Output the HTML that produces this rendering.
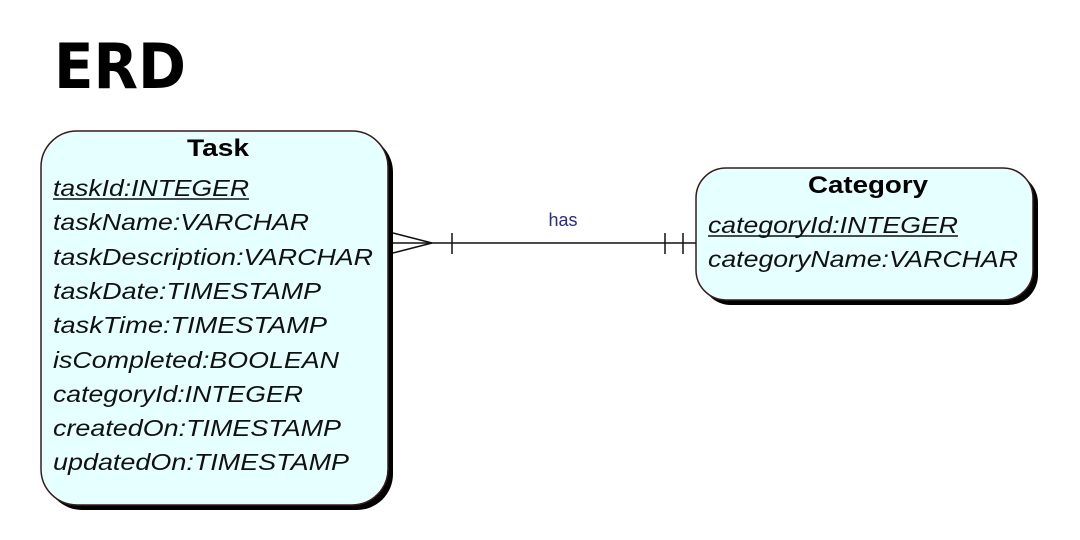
<!DOCTYPE html>
<html><head><meta charset="utf-8"><style>html,body{margin:0;padding:0;background:#fff;}svg{display:block}</style></head>
<body>
<svg width="1080" height="540" xmlns="http://www.w3.org/2000/svg" font-family="Liberation Sans, Arial, sans-serif">
<text x="54" y="88" font-family="DejaVu Sans, sans-serif" font-weight="bold" font-size="62" textLength="132" lengthAdjust="spacingAndGlyphs">ERD</text>
<!-- Task -->
<rect x="46" y="136" width="347" height="374" rx="36" fill="#000"/>
<rect x="41" y="131" width="347" height="374" rx="36" fill="#e6ffff" stroke="#3a1a1a" stroke-width="1.5"/>
<text x="187" y="156" font-weight="bold" font-size="24" textLength="62" lengthAdjust="spacingAndGlyphs">Task</text>
<g font-style="italic" font-size="23" fill="#111">
<text x="53" y="196" textLength="196" lengthAdjust="spacingAndGlyphs">taskId:INTEGER</text>
<line x1="53" y1="199" x2="249" y2="199" stroke="#111" stroke-width="1.5"/>
<text x="53" y="230" textLength="256" lengthAdjust="spacingAndGlyphs">taskName:VARCHAR</text>
<text x="53" y="265" textLength="320" lengthAdjust="spacingAndGlyphs">taskDescription:VARCHAR</text>
<text x="53" y="299" textLength="268" lengthAdjust="spacingAndGlyphs">taskDate:TIMESTAMP</text>
<text x="53" y="333" textLength="274" lengthAdjust="spacingAndGlyphs">taskTime:TIMESTAMP</text>
<text x="53" y="368" textLength="286" lengthAdjust="spacingAndGlyphs">isCompleted:BOOLEAN</text>
<text x="53" y="402" textLength="250" lengthAdjust="spacingAndGlyphs">categoryId:INTEGER</text>
<text x="53" y="436" textLength="288" lengthAdjust="spacingAndGlyphs">createdOn:TIMESTAMP</text>
<text x="53" y="470" textLength="296" lengthAdjust="spacingAndGlyphs">updatedOn:TIMESTAMP</text>
</g>
<!-- Category -->
<rect x="701" y="173" width="337" height="132" rx="30" fill="#000"/>
<rect x="696" y="168" width="337" height="132" rx="30" fill="#e6ffff" stroke="#3a1a1a" stroke-width="1.5"/>
<text x="808" y="193" font-weight="bold" font-size="24" textLength="120" lengthAdjust="spacingAndGlyphs">Category</text>
<g font-style="italic" font-size="23" fill="#111">
<text x="708" y="233" textLength="250" lengthAdjust="spacingAndGlyphs">categoryId:INTEGER</text>
<line x1="708" y1="236" x2="958" y2="236" stroke="#111" stroke-width="1.5"/>
<text x="708" y="267" textLength="310" lengthAdjust="spacingAndGlyphs">categoryName:VARCHAR</text>
</g>
<!-- connector -->
<g stroke="#111" stroke-width="1.5" fill="none">
<line x1="393" y1="243" x2="696" y2="243"/>
<line x1="393" y1="233" x2="432" y2="243"/>
<line x1="393" y1="253" x2="432" y2="243"/>
<line x1="452" y1="233" x2="452" y2="254"/>
<line x1="665" y1="233" x2="665" y2="254"/>
<line x1="683" y1="233" x2="683" y2="254"/>
</g>
<text x="563" y="226" text-anchor="middle" font-size="18" fill="#2a2a8a">has</text>
</svg>
</body></html>
